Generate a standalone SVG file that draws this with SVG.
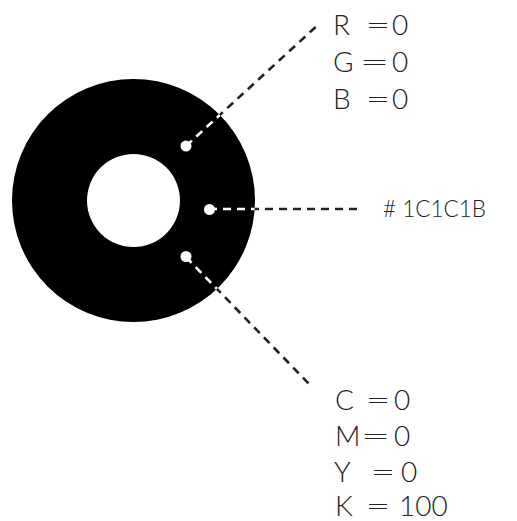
<svg xmlns="http://www.w3.org/2000/svg" width="517" height="521" viewBox="0 0 517 521">
<defs>
<style>
.t{font-family:Lato,"Open Sans","Liberation Sans",sans-serif;font-weight:300;font-size:28px;fill:#222}
.h{font-size:24px}
.ln{stroke:#222;stroke-width:2.6;stroke-dasharray:8 6;fill:none}
.lw{stroke:#fff;stroke-width:2.6;stroke-dasharray:8 6;fill:none}
.dot{fill:#fff}
</style>
<clipPath id="ringclip"><path clip-rule="evenodd" d="M12,200.5a121.5,121.5 0 1,0 243,0a121.5,121.5 0 1,0 -243,0ZM87,200.5a46.5,46.5 0 1,0 93,0a46.5,46.5 0 1,0 -93,0Z"/></clipPath>
</defs>
<rect width="517" height="521" fill="#fff"/>
<g id="ring">
<path fill="#000" fill-rule="evenodd" d="M12,200.5a121.5,121.5 0 1,0 243,0a121.5,121.5 0 1,0 -243,0ZM87,200.5a46.5,46.5 0 1,0 93,0a46.5,46.5 0 1,0 -93,0Z"/>
</g>
<g id="connectors">
<path class="ln" d="M186,146L320,23"/>
<path class="ln" d="M209,209L358,209"/>
<path class="ln" d="M186,257L312,387"/>
<g clip-path="url(#ringclip)">
<path class="lw" d="M186,146L320,23"/>
<path class="lw" d="M209,209L358,209"/>
<path class="lw" d="M186,257L312,387"/>
</g>
<circle class="dot" cx="186" cy="146" r="5.5"/>
<circle class="dot" cx="209.5" cy="209.5" r="5.5"/>
<circle class="dot" cx="186" cy="256.5" r="5.5"/>
</g>
<g id="rgb">
<text class="t" x="333" y="35">R</text><text class="t" x="365.5" y="35" textLength="25" lengthAdjust="spacingAndGlyphs">=</text><text class="t" x="392" y="35">0</text>
<text class="t" x="333" y="72">G</text><text class="t" x="359.5" y="72" textLength="30" lengthAdjust="spacingAndGlyphs">=</text><text class="t" x="392" y="72">0</text>
<text class="t" x="333" y="109">B</text><text class="t" x="365.5" y="109" textLength="25" lengthAdjust="spacingAndGlyphs">=</text><text class="t" x="392" y="109">0</text>
</g>
<g id="hex">
<text class="t h" x="383" y="217" textLength="103" lengthAdjust="spacingAndGlyphs"># 1C1C1B</text>
</g>
<g id="cmyk">
<text class="t" x="335" y="410">C</text><text class="t" x="365.5" y="410" textLength="25" lengthAdjust="spacingAndGlyphs">=</text><text class="t" x="394" y="410">0</text>
<text class="t" x="335" y="446">M</text><text class="t" x="360.5" y="446" textLength="30" lengthAdjust="spacingAndGlyphs">=</text><text class="t" x="394" y="446">0</text>
<text class="t" x="334" y="482">Y</text><text class="t" x="370.5" y="482" textLength="25" lengthAdjust="spacingAndGlyphs">=</text><text class="t" x="401" y="482">0</text>
<text class="t" x="335" y="516">K</text><text class="t" x="365.5" y="516" textLength="25" lengthAdjust="spacingAndGlyphs">=</text><text class="t" x="399" y="516">100</text>
</g>
</svg>
